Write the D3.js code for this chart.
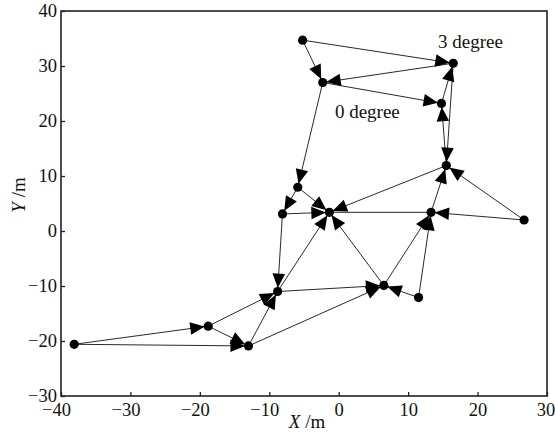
<!DOCTYPE html>
<html><head><meta charset="utf-8">
<script src="https://cdn.jsdelivr.net/npm/d3@7"></script>
<style>
html,body{margin:0;padding:0;background:#fff;}
svg{display:block;font-family:"Liberation Serif","Times New Roman",serif;}
</style></head>
<body><svg id="c" width="555" height="435"></svg>
<script>
// Node data (metres)
const nodeNames = ["A","B","C","D","E","F","G","H","I","J","K","L","M","N","O","P"];
const nodeX = [-5.2, 16.5, -2.3, 14.8, 15.5, -5.9, -8.1, -1.35, 13.3, 26.7, -8.8, 6.5, 11.5, -38.1, -18.8, -13.0];
const nodeY = [34.7, 30.5, 27.0, 23.2, 11.9, 7.95, 3.1, 3.4, 3.4, 2.0, -11.0, -9.9, -12.1, -20.6, -17.3, -20.9];
// Directed links
const edgeFrom = ["A","A","B","C","D","E","B","C","F","F","E","G","J","J","M","L","I","G","K","L","K","M","P","P","O","N","N","O"];
const edgeTo   = ["B","C","C","D","B","D","E","F","G","H","H","H","E","I","I","I","E","K","H","H","L","L","L","K","K","O","P","P"];
// Undirected links
const plainFrom = ["I"];
const plainTo = ["H"];
// Axis ticks
const xTicks = [-40,-30,-20,-10,0,10,20,30];
const yTicks = [-30,-20,-10,0,10,20,30,40];
// Annotations
const noteText = ["3 degree","0 degree"];
const noteX = [14.3, -0.55];
const noteY = [33.3, 20.5];

const svg = d3.select("#c");
const x = d3.scaleLinear().domain([-40,30]).range([61,547]);
const y = d3.scaleLinear().domain([-30,40]).range([396,11]);
const pos = {};
nodeNames.forEach((n,i)=>pos[n]=[x(nodeX[i]), y(nodeY[i])]);

const fmt = d => d<0 ? "\u2212"+Math.abs(d) : String(d);

// edges
const lineCol = "#2a2a2a";
const allFrom = edgeFrom.concat(plainFrom), allTo = edgeTo.concat(plainTo);
svg.append("g").selectAll("line").data(allFrom.map((f,i)=>[f,allTo[i]])).join("line")
  .attr("x1",d=>pos[d[0]][0]).attr("y1",d=>pos[d[0]][1])
  .attr("x2",d=>pos[d[1]][0]).attr("y2",d=>pos[d[1]][1])
  .attr("stroke",lineCol).attr("stroke-width",1);

// arrowheads
const aLen = 14.5, aHalf = 6.3, tipOff = 3.5;
svg.append("g").selectAll("path").data(edgeFrom.map((f,i)=>[f,edgeTo[i]])).join("path")
  .attr("d", d=>{
    const [x1,y1]=pos[d[0]], [x2,y2]=pos[d[1]];
    const L = Math.hypot(x2-x1,y2-y1), ux=(x2-x1)/L, uy=(y2-y1)/L;
    const tx = x2-ux*tipOff, ty = y2-uy*tipOff;
    const bx = tx-ux*aLen, by = ty-uy*aLen;
    return `M${tx},${ty}L${bx-uy*aHalf},${by+ux*aHalf}L${bx+uy*aHalf},${by-ux*aHalf}Z`;
  }).attr("fill","#000");

// nodes
svg.append("g").selectAll("circle").data(nodeNames).join("circle")
  .attr("cx",d=>pos[d][0]).attr("cy",d=>pos[d][1]).attr("r",4.6).attr("fill","#000");

// annotations
svg.append("g").selectAll("text").data(noteText).join("text")
  .attr("x",(d,i)=>x(noteX[i])).attr("y",(d,i)=>y(noteY[i]))
  .attr("font-size",19).attr("fill","#111").text(d=>d);

// frame
svg.append("rect").attr("x",61).attr("y",11).attr("width",486).attr("height",385)
  .attr("fill","none").attr("stroke","#222").attr("stroke-width",1.6);

// axes (inward ticks)
const gx = svg.append("g").attr("transform","translate(0,396)")
  .call(d3.axisBottom(x).tickValues(xTicks).tickSize(-4).tickPadding(7).tickFormat(fmt));
const gy = svg.append("g").attr("transform","translate(61,0)")
  .call(d3.axisLeft(y).tickValues(yTicks).tickSize(-4).tickPadding(4).tickFormat(fmt));
[gx,gy].forEach(g=>{
  g.select(".domain").remove();
  g.selectAll(".tick line").attr("stroke","#222").attr("stroke-width",1.3);
  g.selectAll("text").attr("font-family","Liberation Serif, serif").attr("font-size",18.5).attr("fill","#111");
});
gx.selectAll(".tick text").attr("dx",d=>d<0?-5:(d===30?-1.5:0));

// axis titles
const xt = svg.append("text").attr("x",307).attr("y",428).attr("text-anchor","middle")
  .attr("font-size",19).attr("fill","#111");
xt.append("tspan").attr("font-style","italic").text("X");
xt.append("tspan").text(" /m");
const yt = svg.append("text").attr("transform","translate(25,195) rotate(-90)").attr("text-anchor","middle")
  .attr("font-size",19).attr("fill","#111");
yt.append("tspan").attr("font-style","italic").text("Y");
yt.append("tspan").text(" /m");
</script></body></html>
